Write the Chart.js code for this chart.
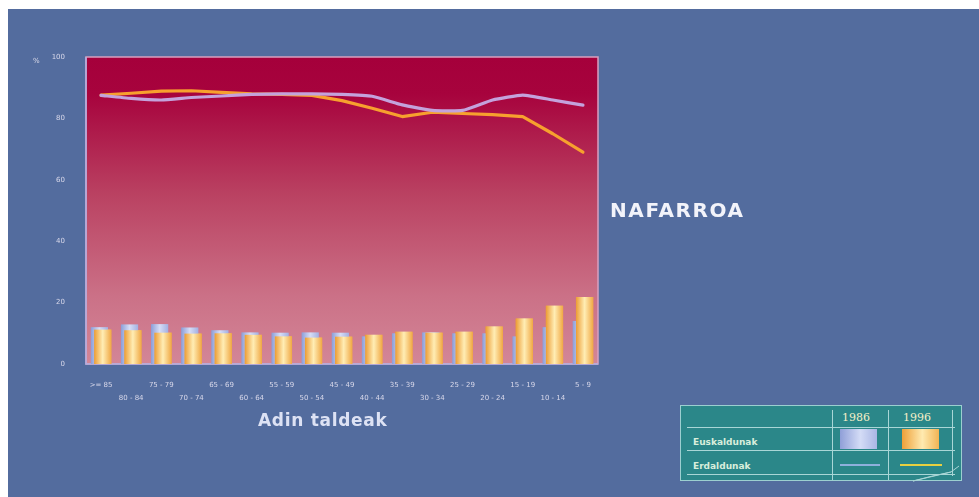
<!DOCTYPE html>
<html>
<head>
<meta charset="utf-8">
<script src="https://cdn.jsdelivr.net/npm/chart.js@4/dist/chart.umd.min.js"></script>
<style>
  html, body { margin: 0; padding: 0; background: #ffffff; width: 979px; height: 497px; overflow: hidden; }
  #page { position: absolute; left: 8px; top: 9px; width: 971px; height: 488px; background: #536c9e; }
  #chartBox { position: absolute; left: 0; top: 0; width: 979px; height: 497px; }
  .txt { position: absolute; font-family: "Comic Sans MS", "DejaVu Sans", sans-serif; white-space: nowrap; }
  #region { left: 610px; top: 198px; font-size: 20px; font-weight: bold; color: #f2f3fa; letter-spacing: 1.6px; }
  #xtitle { left: 258px; top: 410px; font-size: 17px; font-weight: bold; color: #dde2f4; letter-spacing: 0.7px; }
  #pct { left: 33px; top: 57px; font-size: 7px; color: #dcdcea; font-family: "DejaVu Sans", sans-serif; }
  #legend { position: absolute; left: 680px; top: 405px; width: 282px; height: 76px; background: #2b8789; border: 1px solid #9ccfd0; box-sizing: border-box; }
  .hl { position: absolute; height: 1px; background: #a9d6d6; }
  .vl { position: absolute; width: 1px; background: #a9d6d6; }
  .lg { position: absolute; font-family: "DejaVu Sans", sans-serif; font-size: 9px; font-weight: bold; color: #d8eedc; }
  .hd { position: absolute; font-family: "DejaVu Serif", serif; font-size: 11px; color: #f4efc8; }
  .sw { position: absolute; }
</style>
</head>
<body>
<div id="page"></div>
<div id="chartBox"><canvas id="c" width="979" height="497"></canvas></div>

<div class="txt" id="pct">%</div>
<div class="txt" id="region">NAFARROA</div>
<div class="txt" id="xtitle">Adin taldeak</div>

<div id="legend">
  <div class="hl" style="left:6px; width:268px; top:21px;"></div>
  <div class="hl" style="left:6px; width:268px; top:44px;"></div>
  <div class="hl" style="left:6px; width:268px; top:68px;"></div>
  <div class="vl" style="left:151px; top:4px; height:70px;"></div>
  <div class="vl" style="left:207px; top:4px; height:70px;"></div>
  <div class="vl" style="left:271px; top:4px; height:66px;"></div>
  <div class="hd" style="left:161px; top:5px;">1986</div>
  <div class="hd" style="left:222px; top:5px;">1996</div>
  <div class="lg" style="left:12px; top:31px;">Euskaldunak</div>
  <div class="lg" style="left:12px; top:55px;">Erdaldunak</div>
  <div class="sw" style="left:159px; top:23px; width:37px; height:20px; background:linear-gradient(90deg,#8f9fd8,#d4dcf6 55%,#a9b6e4);"></div>
  <div class="sw" style="left:221px; top:23px; width:37px; height:20px; background:linear-gradient(90deg,#eea038,#ffeab0 55%,#f2b454);"></div>
  <div class="sw" style="left:159px; top:58px; width:40px; height:1.5px; background:#8fb0dc;"></div>
  <div class="sw" style="left:219px; top:58px; width:42px; height:2px; background:#e8d040;"></div>
  <svg style="position:absolute; left:230px; top:58px;" width="52" height="18">
    <path d="M2 17 L40 8 L48 2" stroke="#a9d6d6" stroke-width="1" fill="none"/>
    <path d="M2 17 Q20 12 40 8" stroke="#a9d6d6" stroke-width="1" fill="none"/>
  </svg>
</div>

<script>
// Age groups (oldest to youngest)
const ageGroups = [">= 85", "80 - 84", "75 - 79", "70 - 74", "65 - 69", "60 - 64", "55 - 59",
  "50 - 54", "45 - 49", "40 - 44", "35 - 39", "30 - 34", "25 - 29", "20 - 24", "15 - 19",
  "10 - 14", "5 - 9"];

// Euskaldunak (%), bars
const euskaldunak1986 = [12.0, 12.9, 13.0, 11.9, 11.0, 10.3, 10.2, 10.3, 10.2, 9.0, 10.0, 10.3, 10.0, 10.0, 9.0, 12.0, 14.0];
const euskaldunak1996 = [11.2, 11.0, 10.2, 9.9, 10.0, 9.5, 9.0, 8.6, 8.9, 9.5, 10.5, 10.2, 10.5, 12.2, 14.8, 19.0, 21.8];

// Erdaldunak (%), lines
const erdaldunak1986 = [87.5, 86.5, 86.0, 86.8, 87.3, 87.8, 88.0, 88.0, 87.8, 87.2, 84.4, 82.6, 82.6, 86.0, 87.6, 86.0, 84.3];
const erdaldunak1996 = [87.6, 88.2, 88.9, 89.0, 88.5, 88.0, 87.8, 87.5, 85.8, 83.3, 80.6, 82.0, 81.6, 81.2, 80.6, 75.0, 69.0];

const yTicks = [0, 20, 40, 60, 80, 100];

const CAT_PCT = 0.22;
const BAR_PCT = 5.2;

// Horizontal "cylinder" shading for each bar
function cylinder(edge, mid, edge2, slotIndex) {
  return (ctx) => {
    const chart = ctx.chart;
    const xs = chart.scales.x;
    if (!xs || !chart.chartArea || ctx.dataIndex === undefined) return mid;
    const catW = xs.width / ageGroups.length;
    const slot = catW * CAT_PCT / 2;
    const w = slot * BAR_PCT;
    const cx = xs.getPixelForValue(ctx.dataIndex) + (slotIndex - 0.5) * slot;
    const g = chart.ctx.createLinearGradient(cx - w / 2, 0, cx + w / 2, 0);
    g.addColorStop(0, edge);
    g.addColorStop(0.5, mid);
    g.addColorStop(1, edge2);
    return g;
  };
}

// Plot area fill and frame
const plotBackground = {
  id: 'plotBackground',
  beforeDraw(chart) {
    const { ctx, chartArea: a } = chart;
    const g = ctx.createLinearGradient(0, a.top, 0, a.bottom);
    g.addColorStop(0, '#a5003b');
    g.addColorStop(0.12, '#a7033d');
    g.addColorStop(0.45, '#ba4262');
    g.addColorStop(0.78, '#cb7187');
    g.addColorStop(1, '#d38697');
    ctx.save();
    ctx.fillStyle = g;
    ctx.fillRect(a.left, a.top, a.width, a.height);
    ctx.lineWidth = 1.5;
    ctx.strokeStyle = '#d7a0c0';
    ctx.strokeRect(a.left, a.top, a.width, a.height);
    ctx.strokeStyle = '#b4aee0';
    ctx.beginPath();
    ctx.moveTo(a.left, a.top);
    ctx.lineTo(a.left, a.bottom);
    ctx.lineTo(a.right, a.bottom);
    ctx.stroke();
    ctx.restore();
  }
};

// 1996 bars sit in front of the 1986 bars
const frontBars = {
  id: 'frontBars',
  afterDatasetDraw(chart, args) {
    if (chart.data.datasets[args.index].label === 'Euskaldunak 1986') {
      const idx = chart.data.datasets.findIndex(d => d.label === 'Euskaldunak 1996');
      chart.getDatasetMeta(idx).controller.draw();
    }
  }
};

new Chart(document.getElementById('c'), {
  data: {
    labels: ageGroups,
    datasets: [
      {
        type: 'line', label: 'Erdaldunak 1986', data: erdaldunak1986, order: 0,
        borderColor: '#c4a2dc', borderWidth: 3.2, pointRadius: 0, tension: 0.15,
        borderCapStyle: 'round', borderJoinStyle: 'round'
      },
      {
        type: 'line', label: 'Erdaldunak 1996', data: erdaldunak1996, order: 0,
        borderColor: '#f7a02e', borderWidth: 3.2, pointRadius: 0, tension: 0,
        borderCapStyle: 'round', borderJoinStyle: 'round'
      },
      {
        type: 'bar', label: 'Euskaldunak 1986', data: euskaldunak1986, order: 1,
        backgroundColor: cylinder('#8c9ed8', '#d6ddf6', '#a3b0e2', 0),
        categoryPercentage: CAT_PCT, barPercentage: BAR_PCT, borderWidth: 0
      },
      {
        type: 'bar', label: 'Euskaldunak 1996', data: euskaldunak1996, order: 2,
        backgroundColor: cylinder('#ec9c34', '#ffedb4', '#f0a844', 1),
        categoryPercentage: CAT_PCT, barPercentage: BAR_PCT, borderWidth: 0
      }
    ]
  },
  options: {
    responsive: false,
    animation: false,
    events: [],
    layout: { padding: { left: 0, top: 57, right: 381, bottom: 0 } },
    plugins: { legend: { display: false }, tooltip: { enabled: false } },
    scales: {
      x: {
        type: 'category',
        offset: true,
        grid: { display: false },
        border: { display: false },
        afterFit: (s) => { s.height = 133; },
        ticks: {
          autoSkip: false, maxRotation: 0, minRotation: 0, padding: 7,
          color: '#d8d8ea',
          font: { family: 'DejaVu Sans', size: 7, lineHeight: '13px' },
          callback: (v, i) => (i % 2 === 0 ? [ageGroups[i], ''] : ['', ageGroups[i]])
        }
      },
      y: {
        min: 0, max: 100,
        grid: { display: false },
        border: { display: false },
        afterFit: (s) => { s.width = 86; },
        afterBuildTicks: (s) => { s.ticks = yTicks.map(v => ({ value: v })); },
        ticks: {
          padding: 13,
          color: '#d8d8ea',
          font: { family: 'DejaVu Sans', size: 7 }
        }
      }
    }
  },
  plugins: [plotBackground, frontBars]
});
</script>
</body>
</html>
